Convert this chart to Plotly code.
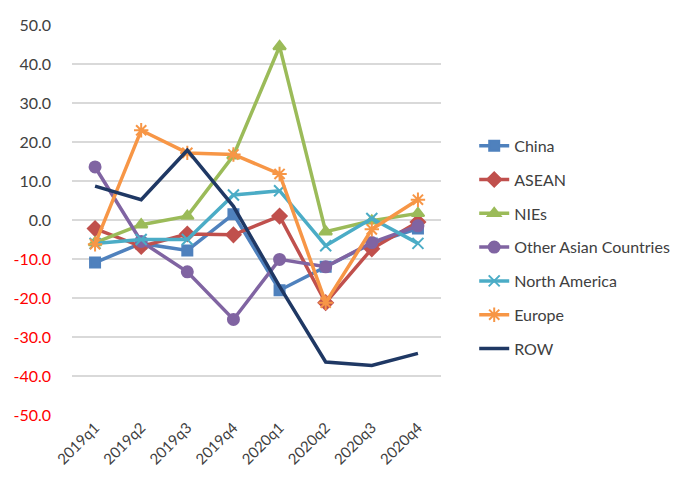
import plotly.graph_objects as go

quarters = ['2019q1', '2019q2', '2019q3', '2019q4', '2020q1', '2020q2', '2020q3', '2020q4']

china = [-10.9, -6.0, -7.8, 1.5, -18.0, -12.0, -6.0, -2.2]
asean = [-2.2, -6.8, -3.6, -3.8, 1.0, -21.2, -7.4, -0.5]
nies = [-5.8, -1.2, 1.0, 16.5, 44.5, -3.0, -0.2, 1.7]
other_asian = [13.6, -5.5, -13.3, -25.5, -10.1, -12.0, -5.8, -1.5]
north_america = [-6.0, -5.0, -5.0, 6.4, 7.5, -6.6, 0.4, -6.0]
europe = [-6.2, 23.0, 17.2, 16.8, 11.8, -21.2, -2.4, 5.2]
row = [8.7, 5.2, 17.9, 3.5, -17.0, -36.4, -37.3, -34.2]

ytick_vals = [50, 40, 30, 20, 10, 0, -10, -20, -30, -40, -50]

series = [
    ('China', china, '#4F81BD', 'square', 10),
    ('ASEAN', asean, '#C0504D', 'diamond', 11),
    ('NIEs', nies, '#9BBB59', 'triangle-up', 11),
    ('Other Asian Countries', other_asian, '#8064A2', 'circle', 11),
    ('North America', north_america, '#4BACC6', 'x-thin', 11),
    ('Europe', europe, '#F79646', 'asterisk', 12),
    ('ROW', row, '#1F3864', None, 0),
]

fig = go.Figure()
for i, (name, vals, color, symbol, size) in enumerate(series):
    if symbol:
        fig.add_trace(go.Scatter(
            x=quarters, y=vals, name=name, mode='lines+markers', legendgroup=str(i),
            line=dict(color=color, width=3.5),
            marker=dict(symbol=symbol, size=size, color=color,
                        line=dict(color=color, width=2))))
    else:
        fig.add_trace(go.Scatter(
            x=quarters, y=vals, name=name, mode='lines', legendgroup=str(i),
            line=dict(color=color, width=3.5)))

# negative labels in red like the original
ytick_text = []
for v in ytick_vals:
    if v < 0:
        ytick_text.append('<span style="color:#FF0000">%.1f</span>' % v)
    else:
        ytick_text.append('%.1f' % v)

fig.update_layout(
    width=680, height=490,
    margin=dict(l=64, r=247, t=17, b=83, autoexpand=False),
    plot_bgcolor='white', paper_bgcolor='white',
    font=dict(family='Lato, Open Sans, sans-serif', size=16, color='#404040'),
    showlegend=True,
    legend=dict(x=1.09, y=0.43, xanchor='left', yanchor='middle',
                tracegroupgap=10, font=dict(size=16, color='#404040'),
                bgcolor='rgba(0,0,0,0)'),
    xaxis=dict(type='category', range=[-0.5, 7.5], showgrid=False, showline=False,
               automargin=False, tickangle=-45, ticks='',
               tickfont=dict(size=15, color='#404040')),
    yaxis=dict(range=[-50, 50], tickvals=ytick_vals, ticktext=ytick_text,
               showgrid=True, gridcolor='#D9D9D9', gridwidth=1.5, zeroline=False,
               showline=False, ticks='', ticklabelstandoff=20, automargin=False,
               tickfont=dict(size=16, color='#404040')),
)

fig.write_html('out.html')
